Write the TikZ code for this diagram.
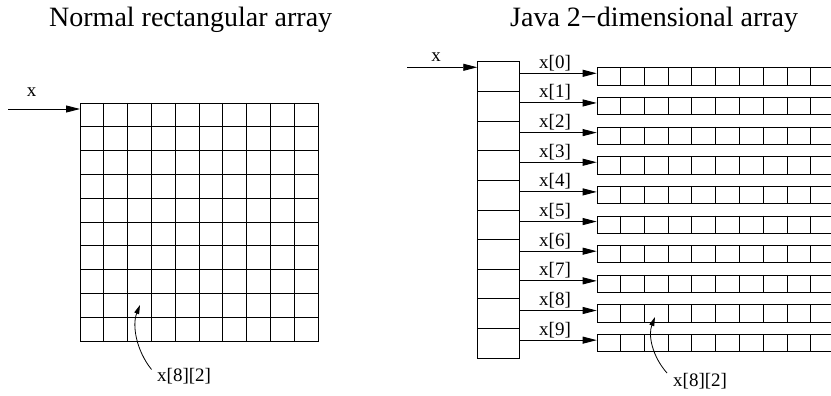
\documentclass[tikz,border=0pt]{standalone}
\usepackage{fontspec}
\setmainfont{Liberation Serif}
\usetikzlibrary{arrows.meta,calc}

\tikzset{
  gridline/.style={line width=0.9pt, black},
  bigarrow/.style={line width=0.9pt, -{Triangle[length=14pt,width=7pt]}},
  smallarrow/.style={line width=0.8pt, -{Triangle[length=9pt,width=5pt]}},
  titletext/.style={font=\fontsize{28}{32}\selectfont, inner sep=0pt, anchor=base west},
  labeltext/.style={font=\fontsize{19}{22}\selectfont, inner sep=0pt, anchor=base west},
  ptrcell/.style={draw, line width=0.9pt, rectangle, inner sep=0pt,
                  minimum width=41.6pt, minimum height=29.65pt},
  rowbox/.style={draw, line width=0.9pt, rectangle, inner sep=0pt, anchor=west,
                 minimum width=238pt, minimum height=17.3pt},
  gridbox/.style={draw, line width=0.9pt, rectangle, inner sep=0pt, anchor=north west,
                  minimum width=238pt, minimum height=238pt}
}

\begin{document}
\begin{tikzpicture}[x=1pt, y=-1pt]
  \useasboundingbox (0,0) rectangle (831,396);
  \clip (0,0) rectangle (831,396);

  % titles
  \node[titletext] (t1) at (49,26.7) {Normal rectangular array};
  \node[titletext] (t2) at (510,26.7) {Java 2−dimensional array};

  % ---- normal rectangular array: a 10 x 10 block ----
  \node[gridbox] (grid) at (80,103) {};
  \foreach \i in {1,...,9} {
    \draw[gridline] ($(grid.north west)+(23.8*\i,0)$) -- ($(grid.south west)+(23.8*\i,0)$);
    \draw[gridline] ($(grid.north west)+(0,23.8*\i)$) -- ($(grid.north east)+(0,23.8*\i)$);
  }
  \node[labeltext, anchor=base] (xa) at (31.7,96.7) {x};
  \coordinate (xastart) at (8,109);
  \draw[bigarrow] (xastart) -- (xastart -| grid.west);

  \node[labeltext] (ea) at (157,381.7) {x[8][2]};
  \coordinate (eastart) at (151.5,369.5);
  \coordinate (eatip) at (140,305);
  \draw[smallarrow] (eastart) .. controls (136,350) and (132,325) .. (eatip);

  % ---- Java array of arrays ----
  \node[labeltext, anchor=base] (xb) at (436,61.7) {x};
  \foreach \i in {0,...,9} {
    \node[ptrcell] (p\i) at (498.5,{61.7+29.65*\i+14.825}) {};
    \node[rowbox] (r\i) at (596.7,{76.35+29.65*\i}) {};
    \foreach \k in {1,...,9}
      \draw[gridline] ($(r\i.north west)+(23.8*\k,0)$) -- ($(r\i.south west)+(23.8*\k,0)$);
    \coordinate (a\i) at (519.3,{73.3+29.65*\i});
    \draw[bigarrow] (a\i) -- (a\i -| r\i.west);
    \node[labeltext] (l\i) at (539,{68.3+29.65*\i}) {x[\i]};
  }
  \coordinate (xbstart) at (407,67.3);
  \draw[bigarrow] (xbstart) -- (xbstart -| p0.west);

  \node[labeltext] (eb) at (673,386.5) {x[8][2]};
  \coordinate (ebstart) at (667,373);
  \coordinate (ebtip) at (655,317);
  \draw[smallarrow] (ebstart) .. controls (652,356) and (648,335) .. (ebtip);
\end{tikzpicture}
\end{document}
